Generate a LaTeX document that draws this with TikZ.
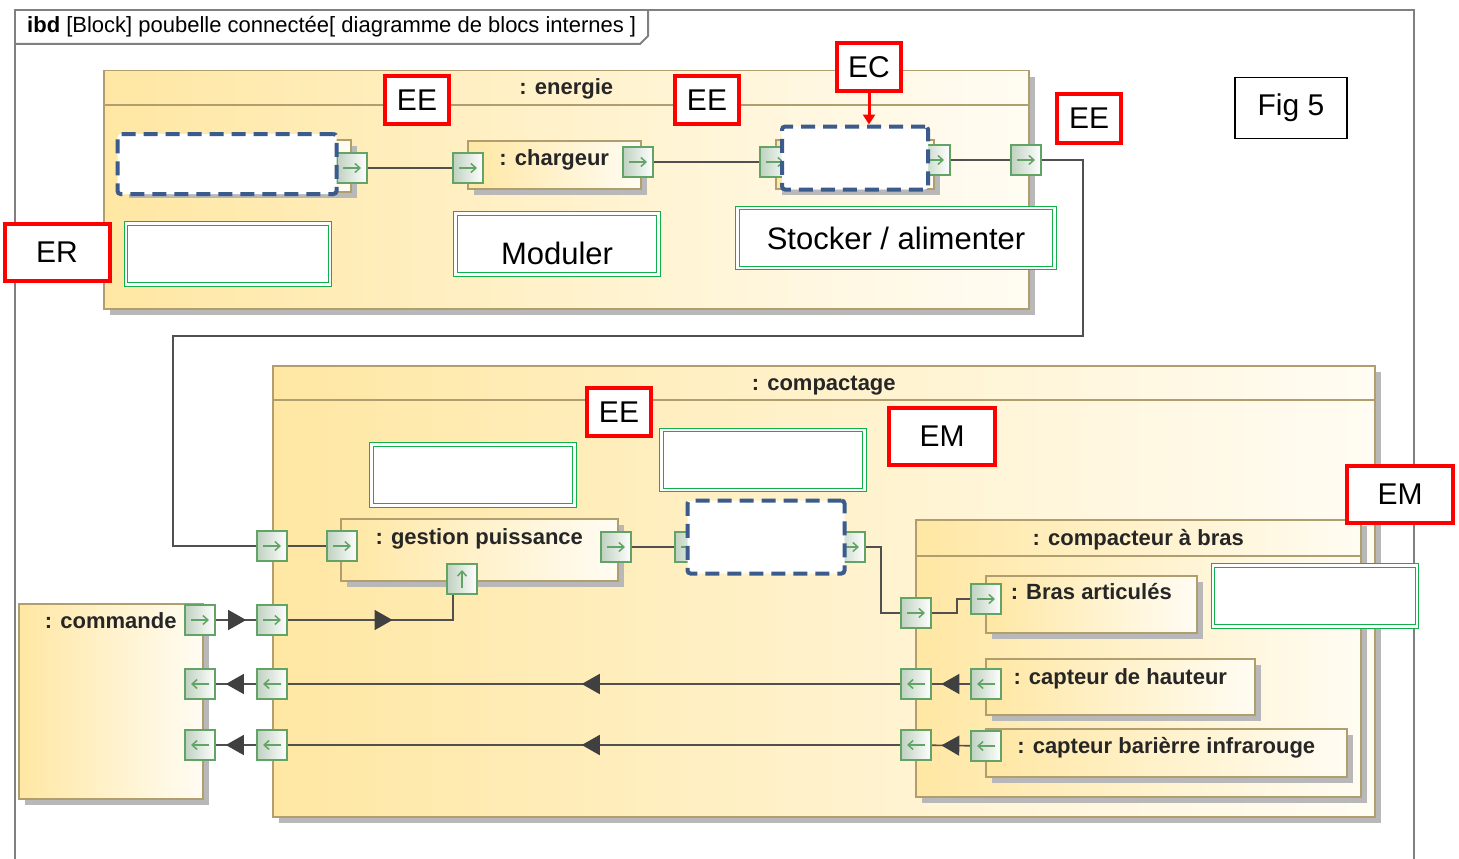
\documentclass[tikz,border=0pt]{standalone}
\usepackage{fontspec}
\setmainfont{Liberation Sans}
\usepackage{tikz}
\usetikzlibrary{arrows.meta, calc, positioning, shadows, decorations.markings}

\definecolor{blocY}{HTML}{FFE7A3}
\definecolor{blocW}{HTML}{FFFCF3}
\definecolor{blocBord}{HTML}{B09E6E}
\definecolor{portBord}{HTML}{62A466}
\definecolor{portFond}{HTML}{BFD2C0}
\definecolor{flux}{HTML}{505050}
\definecolor{tirets}{HTML}{3A5B8C}
\definecolor{vertDbl}{HTML}{12B04A}

\begin{document}
\begin{tikzpicture}[x=1pt, y=-1pt,
		bloc/.style={draw=blocBord, line width=1.5pt, left color=blocY, right color=blocW,
			anchor=north west, inner sep=0pt,
			drop shadow={shadow xshift=6pt, shadow yshift=-6pt, fill=black!28, opacity=1}},
		blocline/.style={draw=blocBord, line width=1.5pt},
		titre/.style={font=\fontsize{22}{24}\selectfont\bfseries, anchor=base, inner sep=0pt, text=black!85},
		port/.style={draw=portBord, line width=1.3pt, minimum size=30pt, inner sep=0pt,
			left color=portFond, right color=white},
		portfl/.style={draw=portBord, line width=1.5pt, -{Straight Barb[length=5pt, width=9pt]}},
		portR/.style={port, path picture={\draw[portfl] ([xshift=6pt]path picture bounding box.west) -- ([xshift=-6pt]path picture bounding box.east);}},
		portL/.style={port, path picture={\draw[portfl] ([xshift=-6pt]path picture bounding box.east) -- ([xshift=6pt]path picture bounding box.west);}},
		portU/.style={port, path picture={\draw[portfl] ([yshift=6pt]path picture bounding box.south) -- ([yshift=-6pt]path picture bounding box.north);}},
		flux/.style={draw=flux, line width=1.6pt},
		tri/.style={postaction={decorate, decoration={markings, mark=at position #1 with {\arrow[fill=black!75, draw=black!75]{Triangle[length=18pt, width=20pt]}}}}},
		rouge/.style={draw=red, line width=4pt, fill=white, inner sep=0pt, font=\fontsize{30}{32}\selectfont},
		vert/.style={draw=vertDbl, double=white, double distance=2.4pt, line width=1.2pt, fill=white,
			inner sep=0pt, font=\fontsize{31}{33}\selectfont},
		tiret/.style={draw=tirets, line width=4pt, dash pattern=on 14pt off 8pt, fill=white,
			rounded corners=3pt, inner sep=0pt},
		cadre/.style={draw=black!50, line width=2pt}
		]

		\useasboundingbox (0,0) rectangle (1459,859);

		% --- cadre ibd ---
		\draw[cadre] (15,859) -- (15,10) -- (1414,10) -- (1414,859);
		\draw[cadre] (15,44) -- (640,44) -- (648,36) -- (648,10);
		\node[anchor=west, inner sep=0pt, font=\fontsize{22}{24}\selectfont] (titreIbd) at (27,27)
			{\textbf{ibd} [Block] poubelle connectée[ diagramme de blocs internes ]};

		% --- energie ---
		\node[bloc, minimum width=925pt, minimum height=238pt] (energie) at (103,70) {};
		\draw[blocline] ([yshift=-35pt]energie.north west) -- ([yshift=-35pt]energie.north east);
		\node[titre] (tEnergie) at ([yshift=-25pt]energie.north) {: energie};

		\node[bloc, minimum width=228pt, minimum height=52pt] (blocD1) at (122,139) {};
		\node[bloc, minimum width=173pt, minimum height=48pt] (chargeur) at (467,140) {};
		\node[titre] (tChargeur) at ([yshift=-25pt]chargeur.north) {: chargeur};
		\node[bloc, minimum width=158pt, minimum height=49pt] (blocEC) at (775,139) {};

		% --- compactage ---
		\node[bloc, minimum width=1102pt, minimum height=451pt] (compactage) at (272,365) {};
		\draw[blocline] ([yshift=-35pt]compactage.north west) -- ([yshift=-35pt]compactage.north east);
		\node[titre] (tCompactage) at ([yshift=-25pt]compactage.north) {: compactage};

		\node[bloc, minimum width=277pt, minimum height=62pt] (gestion) at (340,518) {};
		\node[titre] (tGestion) at ([yshift=-26pt]gestion.north) {: gestion puissance};

		\node[bloc, minimum width=445pt, minimum height=277pt] (compacteur) at (915,519) {};
		\draw[blocline] ([yshift=-37pt]compacteur.north west) -- ([yshift=-37pt]compacteur.north east);
		\node[titre] (tCompacteur) at ([yshift=-26pt]compacteur.north) {: compacteur à bras};

		\node[bloc, minimum width=211pt, minimum height=57pt] (bras) at (985,575) {};
		\node[titre] (tBras) at ([yshift=-24pt]bras.north) {: Bras articulés};
		\node[bloc, minimum width=269pt, minimum height=56pt] (hauteur) at (985,658) {};
		\node[titre] (tHauteur) at ([yshift=-26pt]hauteur.north) {: capteur de hauteur};
		\node[bloc, minimum width=361pt, minimum height=48pt] (barriere) at (985,728) {};
		\node[titre] (tBarriere) at ([yshift=-25pt]barriere.north) {: capteur barièrre infrarouge};

		% --- commande ---
		\node[bloc, minimum width=184pt, minimum height=195pt] (commande) at (18,603) {};
		\node[titre] (tCommande) at ([yshift=-25pt]commande.north) {: commande};

		% --- connecteurs ---
		\coordinate (coude1) at (1083,336);
		\coordinate (coude2) at (173,336);
		\coordinate (coudeD2) at (881,613);
		\coordinate (coudeBa) at (957,599);

		\node[portR] (pD1) at (352,168) {};
		\node[portR] (pChE) at (468,168) {};
		\node[portR] (pChS) at (638,162) {};
		\node[portR] (pEcE) at (775,162) {};
		\node[portR] (pEcS) at (935,160) {};
		\node[portR] (pEnS) at (1026,160) {};

		\node[portR] (pCpE) at (272,546) {};
		\node[portR] (pGpE) at (342,546) {};
		\node[portR] (pGpS) at (616,547) {};
		\node[portU] (pGpU) at (462,579) {};
		\node[portR] (pD2E) at (690,547) {};
		\node[portR] (pD2S) at (850,547) {};
		\node[portR] (pCbE) at (916,613) {};
		\node[portR] (pBaE) at (986,599) {};

		\node[portR] (pCmdS) at (200,620) {};
		\node[portR] (pCpC) at (272,620) {};
		\node[portL] (pCmdH) at (200,684) {};
		\node[portL] (pCpH) at (272,684) {};
		\node[portL] (pCbH) at (916,684) {};
		\node[portL] (pHaS) at (986,684) {};
		\node[portL] (pCmdB) at (200,745) {};
		\node[portL] (pCpB) at (272,745) {};
		\node[portL] (pCbB) at (916,745) {};
		\node[portL] (pBiS) at (986,746) {};

		\draw[flux] (pD1) -- (pChE);
		\draw[flux] (pChS) -- (pEcE);
		\draw[flux] (pEcS) -- (pEnS);
		\draw[flux] (pEnS) -| (coude1) -- (coude2) |- (pCpE);
		\draw[flux] (pCpE) -- (pGpE);
		\draw[flux] (pGpS) -- (pD2E);
		\draw[flux] (pD2S) -| (coudeD2) -- (pCbE);
		\draw[flux] (pCbE) -| (coudeBa) -- (pBaE);

		\draw[flux, tri=0.75] (pCmdS) -- (pCpC);
		\draw[flux, tri=0.55] (pCpC) -| ([xshift=-9pt]pGpU.south);
		\draw[flux, tri=0.75] (pHaS) -- (pCbH);
		\draw[flux, tri=0.52] (pCbH) -- (pCpH);
		\draw[flux, tri=0.75] (pCpH) -- (pCmdH);
		\draw[flux, tri=0.75] (pBiS) -- (pCbB);
		\draw[flux, tri=0.52] (pCbB) -- (pCpB);
		\draw[flux, tri=0.75] (pCpB) -- (pCmdB);

		% redraw ports above lines
		\foreach \p/\s in {pD1/portR, pChE/portR, pChS/portR, pEcE/portR, pEcS/portR, pEnS/portR,
			pCpE/portR, pGpE/portR, pGpS/portR, pGpU/portU, pD2E/portR, pD2S/portR, pCbE/portR, pBaE/portR,
			pCmdS/portR, pCpC/portR, pCmdH/portL, pCpH/portL, pCbH/portL, pHaS/portL,
			pCmdB/portL, pCpB/portL, pCbB/portL, pBiS/portL}
			\node[\s] at (\p) {};

		% --- zones a completer ---
		\node[tiret, minimum width=219pt, minimum height=60pt] (d1) at (227,164) {};
		\node[tiret, minimum width=146pt, minimum height=63pt] (d3) at (855,158) {};
		\node[tiret, minimum width=157pt, minimum height=73pt] (d2) at (766,537) {};

		\node[vert, minimum width=204pt, minimum height=61pt] (g1) at (228,254) {};
		\node[vert, minimum width=203pt, minimum height=61pt] (g2) at (557,244) {\raisebox{-20pt}[0pt][0pt]{Moduler}};
		\node[vert, minimum width=317pt, minimum height=60pt] (g3) at (896,238) {Stocker / alimenter};
		\node[vert, minimum width=203pt, minimum height=61pt] (g4) at (473,475) {};
		\node[vert, minimum width=203pt, minimum height=60pt] (g5) at (763,460) {};
		\node[vert, minimum width=204pt, minimum height=61pt] (g6) at (1315,596) {};

		% --- reperes ---
		\node[rouge, minimum width=64pt, minimum height=48pt] (ee1) at (417,100) {EE};
		\node[rouge, minimum width=64pt, minimum height=48pt] (ee2) at (707,100) {EE};
		\node[rouge, minimum width=64pt, minimum height=48pt] (ec) at (869,67) {EC};
		\node[rouge, minimum width=64pt, minimum height=49pt] (ee3) at (1089,118) {EE};
		\node[rouge, minimum width=105pt, minimum height=57pt] (er) at (57,252) {ER};
		\node[rouge, minimum width=64pt, minimum height=48pt] (ee4) at (619,412) {EE};
		\node[rouge, minimum width=106pt, minimum height=57pt] (em1) at (942,436) {EM};
		\node[rouge, minimum width=106pt, minimum height=57pt] (em2) at (1400,494) {EM};
		\draw[draw=red, line width=3pt, -{Triangle[length=10pt, width=12pt]}] (ec.south) -- (ec.south |- d3.north);

		\node[draw, line width=1.5pt, minimum width=112pt, minimum height=61pt,
			font=\fontsize{30}{32}\selectfont] (fig) at (1291,108) {Fig 5};

	\end{tikzpicture}
\end{document}
